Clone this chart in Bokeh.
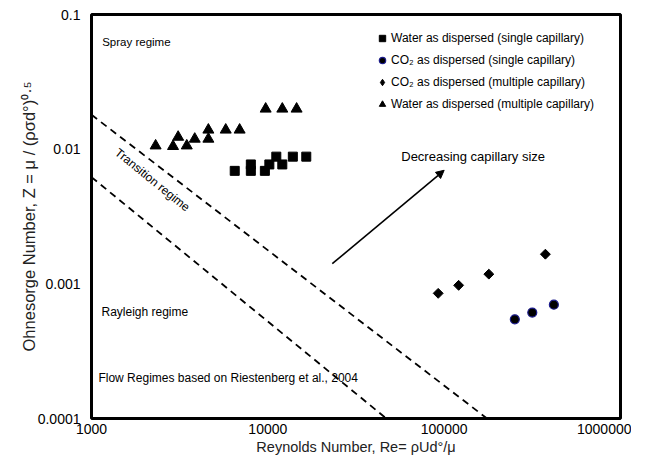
from bokeh.plotting import figure
from bokeh.models import FixedTicker, Legend, LegendItem, Label, Arrow, NormalHead
from bokeh.embed import file_html
from bokeh.resources import INLINE
import math

# ---- data ----
re_water_single = [6490, 8010, 8010, 9620, 10200, 11170, 12080, 13860, 16520]
z_water_single = [0.0069, 0.0077, 0.0069, 0.0069, 0.0077, 0.0088, 0.0077, 0.0088, 0.0088]

re_co2_single = [251600, 316000, 418900]
z_co2_single = [0.000545, 0.000612, 0.000700]

re_co2_multi = [92500, 120800, 179200, 375000]
z_co2_multi = [0.000850, 0.000975, 0.00118, 0.00166]

re_water_multi = [2310, 2900, 3100, 3470, 3850, 4600, 4600, 5770, 6920, 9720, 12080, 14560]
z_water_multi = [0.0106, 0.0105, 0.0123, 0.0106, 0.0119, 0.0139, 0.0119, 0.0139, 0.0139, 0.0199, 0.0199, 0.0199]

# regime boundaries
upper_re = [1000, 175000]
upper_z = [0.018, 0.0001]
lower_re = [1000, 47000]
lower_z = [0.0062, 0.0001]

x_ticks = [1000, 10000, 100000, 1000000]
x_tick_labels = ["1000", "10000", "100000", "1000000"]
y_ticks = [0.0001, 0.001, 0.01, 0.1]
y_tick_labels = ["0.0001", "0.001", "0.01", "0.1"]

legend_labels = [
    "Water as dispersed (single capillary)",
    "CO\u2082 as dispersed (single capillary)",
    "CO\u2082 as dispersed (multiple capillary)",
    "Water as dispersed (multiple capillary)",
]

arrow_start = (23200, 0.00141)
arrow_end = (100000, 0.00697)

FONT = "Liberation Sans"

p = figure(width=631, height=458, frame_width=529, frame_height=404,
           min_border_left=91, min_border_right=11, min_border_top=14, min_border_bottom=40,
           x_axis_type="log", y_axis_type="log",
           x_range=(1000, 1e6), y_range=(1e-4, 0.1),
           output_backend="svg", toolbar_location=None)

p.xgrid.visible = False
p.ygrid.visible = False
p.outline_line_color = "black"
p.outline_line_width = 3
p.outline_line_alpha = 1.0

for ax in (p.xaxis[0], p.yaxis[0]):
    ax.axis_line_color = None
    ax.major_tick_line_color = None
    ax.minor_tick_line_color = None
    ax.major_tick_out = 0
    ax.major_tick_in = 0
    ax.minor_tick_out = 0
    ax.minor_tick_in = 0
    ax.major_label_text_font = FONT
    ax.major_label_text_font_size = "14px"
    ax.major_label_text_color = "black"
    ax.axis_label_text_font = FONT
    ax.axis_label_text_font_style = "normal"
    ax.axis_label_text_color = "#222222"

p.xaxis[0].axis_label_text_font_size = "14.5px"
p.yaxis[0].axis_label_text_font_size = "16.5px"
p.xaxis[0].ticker = FixedTicker(ticks=x_ticks)
p.xaxis[0].major_label_overrides = {t: l for t, l in zip(x_ticks, x_tick_labels)}
p.yaxis[0].ticker = FixedTicker(ticks=y_ticks)
p.yaxis[0].major_label_overrides = {t: l for t, l in zip(y_ticks, y_tick_labels)}
p.xaxis[0].major_label_standoff = 5
p.yaxis[0].major_label_standoff = 11
p.xaxis[0].axis_label = "Reynolds Number, Re= \u03c1Ud\u00b0/\u03bc"
p.yaxis[0].axis_label = "Ohnesorge Number, Z = \u03bc / (\u03c1\u03c3d\u00b0)\u2070\u00b7\u2075"
p.xaxis[0].axis_label_standoff = 2
p.yaxis[0].axis_label_standoff = -3

# regime boundaries
p.line(upper_re, upper_z, line_color="black", line_width=1.8, line_dash="7 5")
p.line(lower_re, lower_z, line_color="black", line_width=1.8, line_dash="7 5")

r1 = p.scatter(re_water_single, z_water_single, marker="square", size=9,
               fill_color="black", line_color="black")
r2 = p.scatter(re_co2_single, z_co2_single, marker="circle", size=9,
               fill_color="black", line_color="#1c1c8c", line_width=1.2)
r3 = p.scatter(re_co2_multi, z_co2_multi, marker="square", size=7, angle=math.pi / 4,
               fill_color="black", line_color="black")
r4 = p.scatter(re_water_multi, z_water_multi, marker="triangle", size=11,
               fill_color="black", line_color="black")
# legend key for the diamond series (a single NaN point: draws nothing in the plot)
r3_key = p.scatter([float("nan")], [float("nan")], marker="diamond", size=12,
                   fill_color="black", line_color="black")

legend = Legend(items=[LegendItem(label=l, renderers=[r]) for l, r in
                       zip(legend_labels, [r1, r2, r3_key, r4])],
                location=(283, 306), border_line_color=None, background_fill_alpha=0,
                label_text_font=FONT, label_text_font_size="12px", label_text_color="black",
                glyph_width=16, glyph_height=16, label_height=16, label_standoff=1,
                spacing=6, padding=4, margin=0)
p.add_layout(legend)

arrow = Arrow(end=NormalHead(size=8, fill_color="black", line_color="black"),
              x_start=arrow_start[0], y_start=arrow_start[1],
              x_end=arrow_end[0], y_end=arrow_end[1],
              line_color="black", line_width=1.6)
p.add_layout(arrow)

def add_text(x, y, text, angle=0.0, align="left", size="12px"):
    p.add_layout(Label(x=x, y=y, text=text, angle=angle, text_align=align,
                       text_baseline="middle", text_font=FONT,
                       text_font_size=size, text_color="black"))

add_text(1150, 0.0625, "Spray regime", size="11.5px")
add_text(2216, 0.00591, "Transition regime", angle=-0.68, align="center")
add_text(1139, 0.000621, "Rayleigh regime")
add_text(1095, 0.0002, "Flow Regimes based on Riestenberg et al., 2004")
add_text(57100, 0.00877, "Decreasing capillary size", size="13px")

open("out.html", "w").write(file_html(p, INLINE))
